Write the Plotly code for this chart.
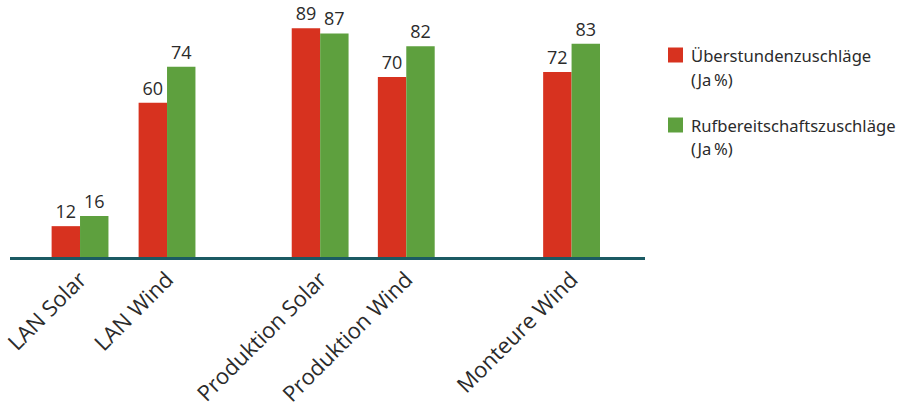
import plotly.graph_objects as go

# ---- data ----
categories = ["LAN Solar", "LAN Wind", "Produktion Solar", "Produktion Wind", "Monteure Wind"]
slots = [0, 1, 2.76, 3.75, 5.65]          # horizontal slot of each group (layout)
ueberstunden = [12, 60, 89, 70, 72]
rufbereitschaft = [16, 74, 87, 82, 83]
series_names = ["Überstundenzuschläge", "Rufbereitschaftszuschläge"]
series_sub = "(Ja\u2009%)"

RED = "#D7321F"
GREEN = "#5EA03E"
TXT = "#2b2b2b"

W, H = 906, 411
ML, MR, MT, MB = 10, 261, 0, 154
pw, ph = W - ML - MR, H - MT - MB

fig = go.Figure()
for name, vals, col in [(series_names[0], ueberstunden, RED), (series_names[1], rufbereitschaft, GREEN)]:
    fig.add_trace(go.Bar(
        x=slots, y=vals, name=name, marker=dict(color=col, line=dict(width=0)),
        text=[str(v) for v in vals], textposition="outside", cliponaxis=False,
        textfont=dict(family="Open Sans", size=18, color=TXT),
        showlegend=False,
    ))

fig.update_layout(
    width=W, height=H,
    margin=dict(l=ML, r=MR, t=MT, b=MB, autoexpand=False),
    paper_bgcolor="white", plot_bgcolor="white",
    barmode="group", bargap=0.34, bargroupgap=0,
    xaxis=dict(
        range=[-0.805, 6.494], tickmode="array", tickvals=slots, ticktext=categories,
        tickangle=-45, tickfont=dict(family="Open Sans", size=22, color=TXT),
        showline=True, linecolor="#1B5A63", linewidth=3, showgrid=False,
        zeroline=False, ticks="", automargin=False, ticklabeloverflow="allow",
        ticklabelstandoff=-2,
    ),
    yaxis=dict(range=[0, 100], visible=False, showgrid=False, zeroline=False, automargin=False),
)

# custom legend
def px_to_paper(xp, yp):
    return (xp - ML) / pw, (MT + ph - yp) / ph

legend_rows = [(55, RED, series_names[0]), (125, GREEN, series_names[1])]
for yc, col, name in legend_rows:
    x0, y0 = px_to_paper(668, yc - 7.5)
    x1, y1 = px_to_paper(683, yc + 7.5)
    fig.add_shape(type="rect", xref="paper", yref="paper", x0=x0, x1=x1, y0=y0, y1=y1,
                  fillcolor=col, line=dict(width=0))
    for k, t in enumerate([name, series_sub]):
        tx, ty = px_to_paper(689, yc + 24 * k)
        fig.add_annotation(xref="paper", yref="paper", x=tx, y=ty, text=t, showarrow=False,
                           xanchor="left", yanchor="middle", align="left",
                           font=dict(family="Noto Sans", size=16.6, color=TXT))

fig.write_html("out.html", config={"displayModeBar": False},
               post_script="document.body.style.margin='0';document.body.style.overflow='hidden';")
